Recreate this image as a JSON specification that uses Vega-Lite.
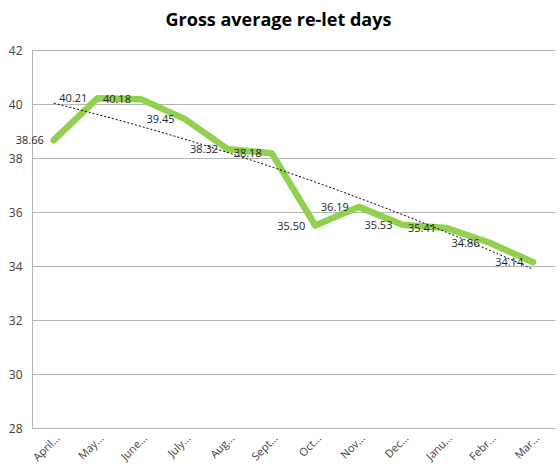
{
  "$schema": "https://vega.github.io/schema/vega-lite/v6.json",
  "width": 523,
  "height": 378,
  "autosize": {"type": "none"},
  "padding": {"left": 32, "top": 50, "right": 5, "bottom": 42},
  "background": "white",
  "title": {
    "text": "Gross average re-let days",
    "font": "Open Sans",
    "fontSize": 18,
    "fontWeight": "bold",
    "color": "#000000",
    "anchor": "middle",
    "offset": 14,
    "frame": "group",
    "dx": -15
  },
  "config": {
    "view": {"stroke": null},
    "font": "Open Sans"
  },
  "data": {
    "values": [
      {"idx": 0, "month": "April...", "days": 38.66},
      {"idx": 1, "month": "May...", "days": 40.21},
      {"idx": 2, "month": "June...", "days": 40.18},
      {"idx": 3, "month": "July...", "days": 39.45},
      {"idx": 4, "month": "Aug...", "days": 38.32},
      {"idx": 5, "month": "Sept...", "days": 38.18},
      {"idx": 6, "month": "Oct...", "days": 35.50},
      {"idx": 7, "month": "Nov...", "days": 36.19},
      {"idx": 8, "month": "Dec...", "days": 35.53},
      {"idx": 9, "month": "Janu...", "days": 35.41},
      {"idx": 10, "month": "Febr...", "days": 34.86},
      {"idx": 11, "month": "Mar...", "days": 34.14}
    ]
  },
  "encoding": {
    "x": {
      "field": "idx",
      "type": "quantitative",
      "scale": {"domain": [-0.5, 11.5], "nice": false, "zero": false},
      "axis": {
        "title": null,
        "values": [0,1,2,3,4,5,6,7,8,9,10,11],
        "labelExpr": "['April...','May...','June...','July...','Aug...','Sept...','Oct...','Nov...','Dec...','Janu...','Febr...','Mar...'][datum.value]",
        "labelAngle": -45,
        "labelAlign": "right",
        "labelBaseline": "top",
        "labelFontSize": 11,
        "labelColor": "#404040",
        "labelPadding": 4,
        "ticks": false,
        "grid": false,
        "domain": false,
        "labelFlush": false,
        "labelOverlap": false
      }
    },
    "y": {
      "field": "days",
      "type": "quantitative",
      "scale": {"domain": [28, 42], "nice": false, "zero": false},
      "axis": {
        "title": null,
        "values": [28,30,32,34,36,38,40,42],
        "labelFontSize": 12,
        "labelColor": "#404040",
        "labelPadding": 10,
        "ticks": false,
        "grid": true,
        "gridColor": "#b4b4b4",
        "gridWidth": 1,
        "domain": true,
        "domainColor": "#b4b4b4",
        "format": "d"
      }
    }
  },
  "layer": [
    {
      "mark": {"type": "line", "color": "#92D050", "strokeWidth": 6.5, "strokeCap": "round", "strokeJoin": "round"}
    },
    {
      "transform": [{"regression": "days", "on": "idx", "method": "poly", "order": 2, "extent": [0, 11]}],
      "mark": {"type": "line", "color": "#000000", "strokeWidth": 1, "strokeDash": [2, 2]}
    },
    {
      "mark": {"type": "text", "align": "right", "baseline": "middle", "dx": -10, "dy": 1, "fontSize": 11, "color": "#262626"},
      "encoding": {
        "text": {"field": "days", "type": "quantitative", "format": ".2f"}
      }
    }
  ]
}
